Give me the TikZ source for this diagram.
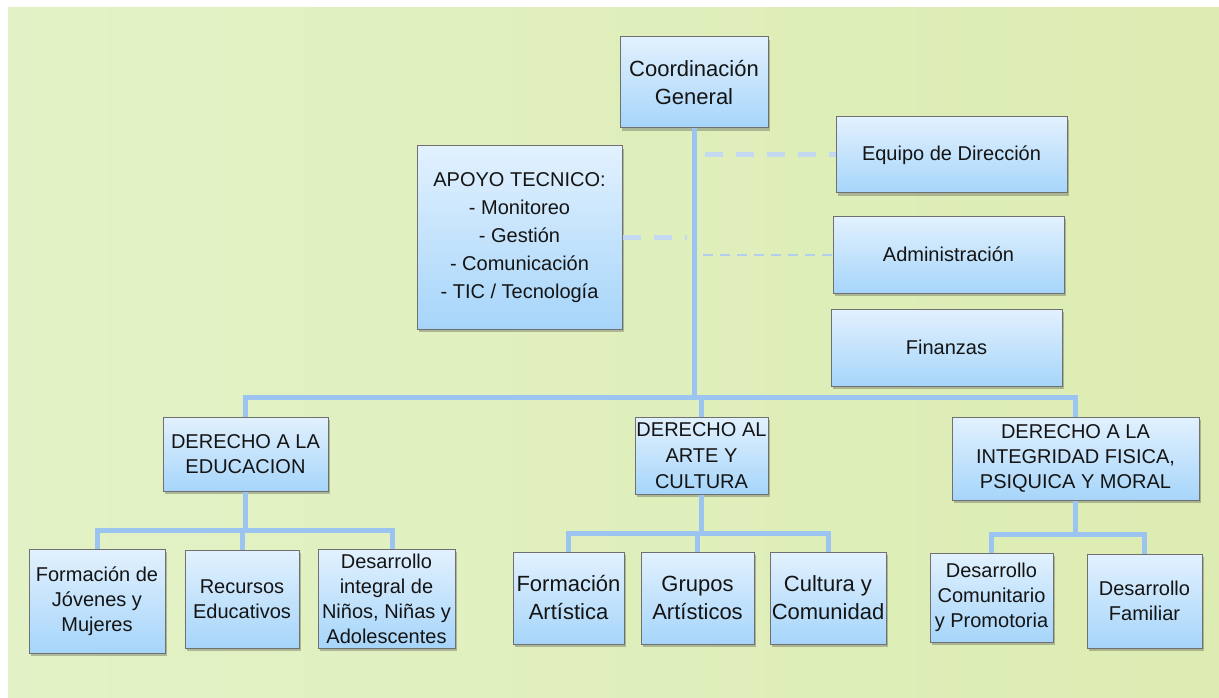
\documentclass[tikz,border=0pt]{standalone}
\usepackage{fontspec}
\setmainfont{Liberation Sans}
\usetikzlibrary{shadows}
\definecolor{bgleft}{RGB}{227,242,198}
\definecolor{bgright}{RGB}{220,236,178}
\definecolor{boxtop}{RGB}{226,241,254}
\definecolor{boxbot}{RGB}{166,213,250}
\definecolor{boxborder}{RGB}{112,112,112}
\definecolor{linkblue}{RGB}{155,196,240}
\definecolor{dashblue}{RGB}{196,216,240}
\definecolor{dashthinblue}{RGB}{180,206,238}
\definecolor{txt}{RGB}{20,20,20}
\tikzset{
  box/.style={draw=boxborder, line width=1pt, top color=boxtop, bottom color=boxbot,
    inner sep=0pt, align=center, text=txt, font=\fontsize{20}{25}\selectfont,
    drop shadow={shadow xshift=2pt, shadow yshift=-3pt, opacity=.35, fill=black!70}},
  bigtext/.style={font=\fontsize{22}{28}\selectfont},
  link/.style={draw=linkblue, line width=5pt},
  dashthick/.style={draw=dashblue, line width=5pt, dash pattern=on 18pt off 13pt},
  dashthin/.style={draw=dashthinblue, line width=2pt, dash pattern=on 10pt off 7pt},
}
\begin{document}
\begin{tikzpicture}[x=1pt,y=-1pt]
\useasboundingbox (0,0) rectangle (1219,698);
\fill[white] (0,0) rectangle (1219,698);
\shade[left color=bgleft, right color=bgright] (8,8) rectangle (1219,698);

% top level
\node[box, bigtext, minimum width=148pt, minimum height=91pt] (cg) at (694,82.5) {Coordinación\\General};
\node[box, minimum width=231pt, minimum height=76pt] (eq) at (951.5,155) {Equipo de Dirección};
\node[box, minimum width=231pt, minimum height=77pt] (adm) at (948.5,254.5) {Administración};
\node[box, minimum width=231pt, minimum height=77pt] (fin) at (946.5,347.5) {Finanzas};
\node[box, font=\fontsize{20}{28}\selectfont, minimum width=205pt, minimum height=183pt] (apoyo) at (519.5,237.5)
  {APOYO TECNICO:\\- Monitoreo\\- Gestión\\- Comunicación\\- TIC / Tecnología};

% second level
\node[box, minimum width=165pt, minimum height=74pt] (edu) at (245.5,454) {DERECHO A LA\\EDUCACION};
\node[box, font=\fontsize{20}{26}\selectfont, minimum width=133pt, minimum height=77pt] (arte) at (701.5,455.5) {DERECHO AL\\ARTE Y\\CULTURA};
\node[box, minimum width=247pt, minimum height=83pt] (integ) at (1075.5,458.5) {DERECHO A LA\\INTEGRIDAD FISICA,\\PSIQUICA Y MORAL};

% third level
\node[box, minimum width=136pt, minimum height=104pt] (fjm) at (97,601) {Formación de\\Jóvenes y\\Mujeres};
\node[box, minimum width=114pt, minimum height=98pt] (rec) at (242,599) {Recursos\\Educativos};
\node[box, minimum width=137pt, minimum height=99pt] (dni) at (386.5,598.5) {Desarrollo\\integral de\\Niños, Niñas y\\Adolescentes};
\node[box, bigtext, minimum width=111pt, minimum height=92pt] (fa) at (568.5,598) {Formación\\Artística};
\node[box, bigtext, minimum width=113pt, minimum height=92pt] (ga) at (697.5,598) {Grupos\\Artísticos};
\node[box, bigtext, minimum width=116pt, minimum height=92pt] (cc) at (828,598) {Cultura y\\Comunidad};
\node[box, minimum width=123pt, minimum height=89pt] (dcp) at (991.5,597.5) {Desarrollo\\Comunitario\\y Promotoria};
\node[box, minimum width=115pt, minimum height=94pt] (df) at (1144.5,601) {Desarrollo\\Familiar};

% junction coordinates
\coordinate (bus) at (694,397);
\coordinate (edubus) at (245,530);
\coordinate (artebus) at (702,533);
\coordinate (integbus) at (1076,534);
\coordinate (eqend) at (705,155);
\coordinate (apend) at (687,237.5);
\coordinate (admend) at (703,254.5);

% main connectors
\draw[link] (cg.south) -- (bus);
\draw[link] (edu.north) |- (bus) -| (integ.north);
\draw[link] (arte.north) -- (arte.north |- bus);

% education subtree
\draw[link] (edu.south) -- (edu.south |- edubus);
\draw[link] (fjm.north) |- (edubus) -| ([xshift=5.5pt]dni.north);
\draw[link] (rec.north) -- (rec.north |- edubus);

% art subtree
\draw[link] (arte.south) -- (arte.south |- artebus);
\draw[link] (fa.north) |- (artebus) -| (cc.north);
\draw[link] (ga.north) -- (ga.north |- artebus);

% integrity subtree
\draw[link] (integ.south) -- (integ.south |- integbus);
\draw[link] (dcp.north) |- (integbus) -| (df.north);

% dashed staff links
\draw[dashthick] (eqend) -- (eq.west);
\draw[dashthick] (apoyo.east) -- (apend);
\draw[dashthin] (admend) -- (adm.west);
\end{tikzpicture}
\end{document}
